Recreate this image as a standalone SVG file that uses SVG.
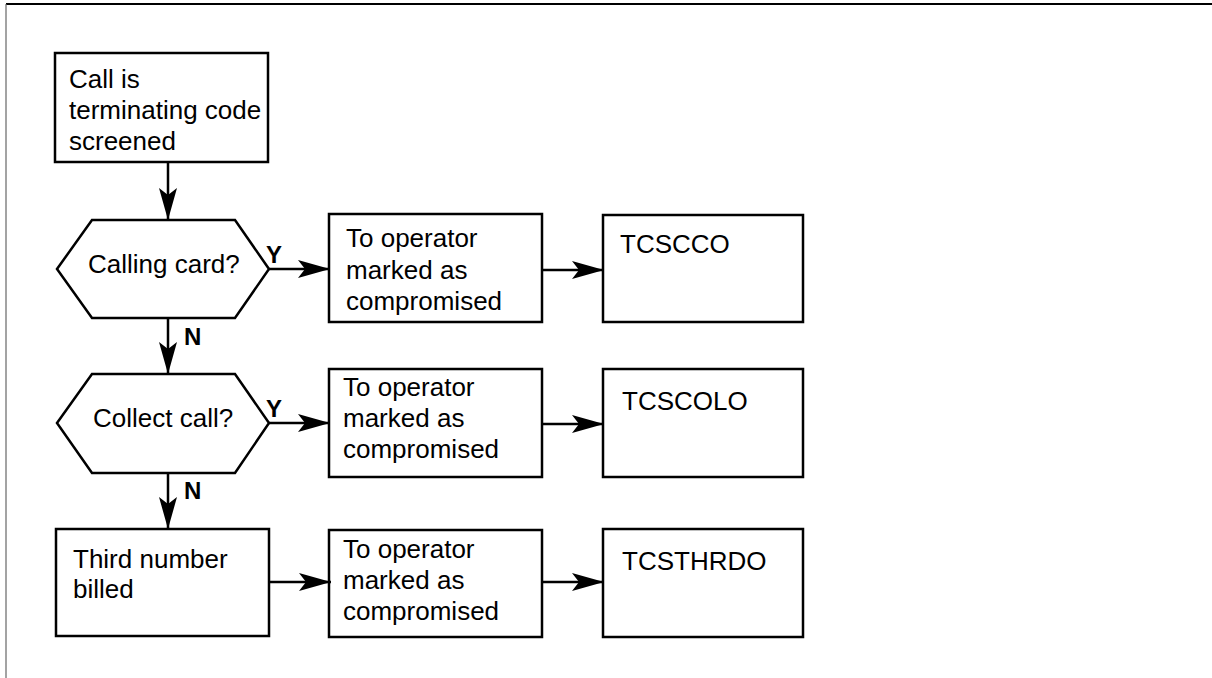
<svg xmlns="http://www.w3.org/2000/svg" width="1212" height="678" viewBox="0 0 1212 678">
<style>
.box{fill:#fff;stroke:#000;stroke-width:2.5}
.t{font-family:"Liberation Sans",Arial,sans-serif;font-size:26px;fill:#000}
.lbl{font-family:"Liberation Sans",Arial,sans-serif;font-size:24px;font-weight:bold;fill:#000}
.c{fill:none;stroke:#000;stroke-width:2.5}
</style>
<defs>
<marker id="ah" markerUnits="userSpaceOnUse" viewBox="-33 -10 34 20" refX="0" refY="0" markerWidth="34" markerHeight="20" orient="auto">
<path d="M0,0 L-32,-9 L-25,0 L-32,9 Z" fill="#000"/>
</marker>
</defs>
<rect width="1212" height="678" fill="#fff"/>
<g id="frame">
<line x1="6" y1="4" x2="1212" y2="4" stroke="#000" stroke-width="2"/>
<line x1="6" y1="4" x2="6" y2="678" stroke="#666" stroke-width="1.2"/>
</g>
<g id="start">
<rect class="box" x="55" y="53" width="213" height="109"/>
<text class="t" x="69" y="88">Call is</text>
<text class="t" x="69" y="119">terminating code</text>
<text class="t" x="69" y="150">screened</text>
</g>
<g id="calling">
<polygon class="box" points="57,269 92,220 235,220 269,269 235,318 92,318"/>
<text class="t" x="88" y="273">Calling card?</text>
</g>
<g id="op1">
<rect class="box" x="329" y="214" width="213" height="108"/>
<text class="t" x="346" y="247">To operator</text>
<text class="t" x="346" y="279">marked as</text>
<text class="t" x="346" y="310">compromised</text>
</g>
<g id="tcscco">
<rect class="box" x="603" y="215" width="200" height="107"/>
<text class="t" x="620" y="253">TCSCCO</text>
</g>
<g id="collect">
<polygon class="box" points="57,423 92,374 235,374 269,423 235,473 92,473"/>
<text class="t" x="93" y="427">Collect call?</text>
</g>
<g id="op2">
<rect class="box" x="329" y="369" width="213" height="108"/>
<text class="t" x="343" y="396">To operator</text>
<text class="t" x="343" y="427">marked as</text>
<text class="t" x="343" y="458">compromised</text>
</g>
<g id="tcscolo">
<rect class="box" x="603" y="369" width="200" height="108"/>
<text class="t" x="622" y="410">TCSCOLO</text>
</g>
<g id="third">
<rect class="box" x="56" y="529" width="213" height="107"/>
<text class="t" x="73" y="568">Third number</text>
<text class="t" x="73" y="598">billed</text>
</g>
<g id="op3">
<rect class="box" x="329" y="530" width="213" height="107"/>
<text class="t" x="343" y="558">To operator</text>
<text class="t" x="343" y="589">marked as</text>
<text class="t" x="343" y="620">compromised</text>
</g>
<g id="tcsthrdo">
<rect class="box" x="603" y="529" width="200" height="108"/>
<text class="t" x="622" y="570">TCSTHRDO</text>
</g>
<g id="connectors">
<line class="c" x1="168" y1="162" x2="168" y2="220" marker-end="url(#ah)"/>
<line class="c" x1="269" y1="269" x2="330" y2="269" marker-end="url(#ah)"/>
<line class="c" x1="542" y1="270" x2="604" y2="270" marker-end="url(#ah)"/>
<line class="c" x1="168" y1="318" x2="168" y2="374" marker-end="url(#ah)"/>
<line class="c" x1="269" y1="423" x2="330" y2="423" marker-end="url(#ah)"/>
<line class="c" x1="542" y1="424" x2="604" y2="424" marker-end="url(#ah)"/>
<line class="c" x1="168" y1="473" x2="168" y2="529" marker-end="url(#ah)"/>
<line class="c" x1="269" y1="582" x2="331" y2="582" marker-end="url(#ah)"/>
<line class="c" x1="542" y1="582" x2="604" y2="582" marker-end="url(#ah)"/>
<text class="lbl" x="266" y="263">Y</text>
<text class="lbl" x="184" y="345">N</text>
<text class="lbl" x="266" y="417">Y</text>
<text class="lbl" x="184" y="499">N</text>
</g>
</svg>
